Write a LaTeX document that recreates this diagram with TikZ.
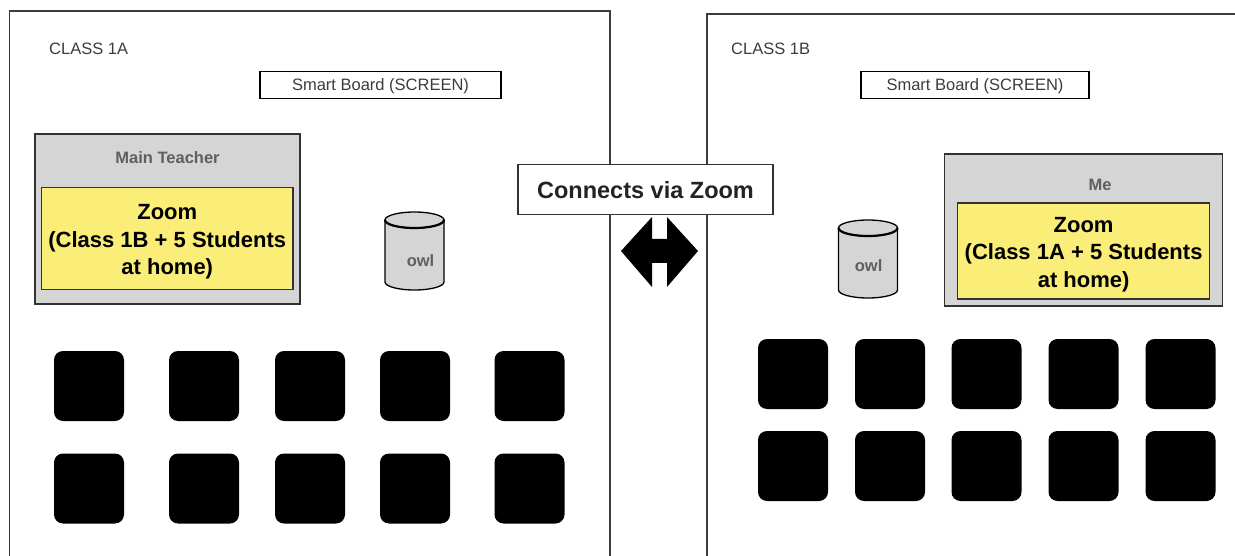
\documentclass[tikz,border=0pt]{standalone}
\usepackage{fontspec}
\setmainfont{Liberation Sans}
\definecolor{roomc}{RGB}{60,60,60}
\definecolor{txtc}{RGB}{60,60,60}
\definecolor{labc}{RGB}{95,95,95}
\definecolor{grayf}{RGB}{213,213,213}
\definecolor{darkc}{RGB}{50,50,50}
\definecolor{yel}{RGB}{250,237,120}
\begin{document}
\begin{tikzpicture}[x=1pt,y=-1pt,
  room/.style={draw=roomc, line width=1.3pt},
  board/.style={draw=black, line width=1.3pt, fill=white, inner sep=0pt, minimum height=27pt},
  boardtext/.style={inner sep=0pt, text=txtc, font=\fontsize{16.5}{20}\selectfont},
  teacher/.style={draw=darkc, fill=grayf, line width=1.8pt, inner sep=0pt},
  zoombox/.style={draw=darkc, fill=yel, line width=1.4pt, inner sep=0pt},
  zoomtext/.style={inner sep=0pt, align=center, font=\bfseries\fontsize{22}{27.5}\selectfont},
  student/.style={fill=black, rounded corners=9pt, minimum width=70pt, minimum height=70pt, inner sep=0pt},
  graylabel/.style={text=labc, inner sep=0pt, font=\bfseries\fontsize{16.5}{20}\selectfont},
  classlabel/.style={text=txtc, inner sep=0pt, anchor=west, font=\fontsize{16.5}{20}\selectfont},
  owlcyl/.pic={
    \filldraw[fill=grayf, draw=black, line width=1.3pt] (-29.5,-31) -- (-29.5,31)
      arc[start angle=180, end angle=360, x radius=29.5pt, y radius=8pt] -- (29.5,-31) -- cycle;
    \filldraw[fill=grayf, draw=black, line width=1.3pt] (0,-31) ellipse [x radius=29.5pt, y radius=8pt];
    \draw[line width=2.2pt] (-29.5,-31) arc[start angle=180, end angle=360, x radius=29.5pt, y radius=8pt];
  }]
\useasboundingbox (0,0) rectangle (1235,556);
\clip (0,0) rectangle (1235,556);

% rooms
\draw[room] (9.5,560) -- (9.5,11) -- (610,11) -- (610,560);
\draw[room] (707,560) -- (707,14) -- (1240,14);

% class labels
\node[classlabel] (c1a) at (49,48.7) {CLASS 1A};
\node[classlabel] (c1b) at (731,48.7) {CLASS 1B};

% smart boards
\node[board, minimum width=241pt] (sbA) at (380.5,85) {};
\node[boardtext] (sbAt) at (380.5,86.5) {Smart Board (SCREEN)};
\node[board, minimum width=228pt] (sbB) at (975,85) {};
\node[boardtext] (sbBt) at (975,86.5) {Smart Board (SCREEN)};

% teacher boxes
\node[teacher, minimum width=265pt, minimum height=170pt] (tA) at (167.25,219.2) {};
\node[graylabel] (tAl) at (167.5,157.5) {Main Teacher};
\node[zoombox, minimum width=251.5pt, minimum height=102pt] (zA) at (167.25,238.3) {};
\node[zoomtext] (zAt) at (167.25,241.8) {Zoom\\(Class 1B + 5 Students\\at home)};

\node[teacher, minimum width=278pt, minimum height=152pt] (tB) at (1083.4,230.2) {};
\node[graylabel] (tBl) at (1100,184.8) {Me};
\node[zoombox, minimum width=252pt, minimum height=96pt] (zB) at (1083.6,251) {};
\node[zoomtext] (zBt) at (1083.6,254.5) {Zoom\\(Class 1A + 5 Students\\at home)};

% owls
\pic at (414.5,251) {owlcyl};
\node[graylabel] (owlA) at (420.5,261) {owl};
\pic at (868,259) {owlcyl};
\node[graylabel] (owlB) at (868.6,265.7) {owl};

% connection
\node[draw=darkc, line width=1.3pt, fill=white, minimum width=255pt, minimum height=50pt,
  inner sep=0pt] (via) at (645.5,189.5) {};
\node[inner sep=0pt, text={rgb,255:red,35;green,35;blue,35},
  font=\bfseries\fontsize{23.5}{28}\selectfont] (viat) at (645.5,190.5) {Connects via Zoom};
\fill[black] (621,251) -- (652,217) -- (652,239) -- (667,239) -- (667,217) -- (698,251)
  -- (667,287) -- (667,263) -- (652,263) -- (652,287) -- cycle;

% students
\foreach \x [count=\i] in {89,204,310,415,529.5} {
  \node[student] (sa\i) at (\x,386) {};
  \node[student] (sb\i) at (\x,488.5) {};
}
\foreach \x [count=\i] in {793,890,986.5,1083.5,1180.5} {
  \node[student] (ra\i) at (\x,374) {};
  \node[student] (rb\i) at (\x,466) {};
}
\end{tikzpicture}
\end{document}
